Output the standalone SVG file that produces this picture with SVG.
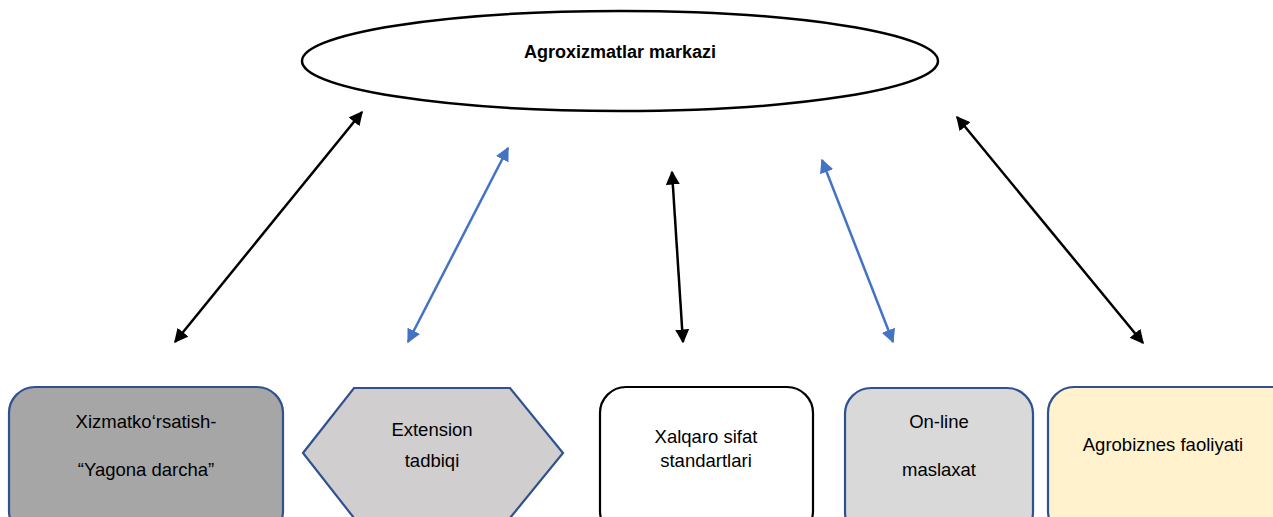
<svg xmlns="http://www.w3.org/2000/svg" width="1273" height="517" viewBox="0 0 1273 517">
<style>
.t{font-family:"Liberation Sans","Open Sans",sans-serif;font-size:18.5px;fill:#000;text-anchor:middle}
.b{font-weight:bold;font-size:18px}
.blue{stroke:#2f528f;stroke-width:2.2}
.ck{stroke:#000;stroke-width:2.5;fill:none}
.cb{stroke:#4472c4;stroke-width:2.5;fill:none}
</style>
<defs>
<marker id="ak" viewBox="0 0 10 10" refX="9" refY="5" markerWidth="5.6" markerHeight="5.6" orient="auto-start-reverse" markerUnits="strokeWidth"><path d="M0,0 L10,5 L0,10 z" fill="#000"/></marker>
<marker id="ab" viewBox="0 0 10 10" refX="9" refY="5" markerWidth="5.6" markerHeight="5.6" orient="auto-start-reverse" markerUnits="strokeWidth"><path d="M0,0 L10,5 L0,10 z" fill="#4472c4"/></marker>
</defs>
<rect width="1273" height="517" fill="#fff"/>
<g id="center">
<ellipse cx="620" cy="61" rx="318" ry="50" fill="#fff" stroke="#000" stroke-width="2.5"/>
<text class="t b" x="620" y="58">Agroxizmatlar markazi</text>
</g>
<g id="connectors">
<line class="ck" x1="175" y1="342" x2="362" y2="112" marker-start="url(#ak)" marker-end="url(#ak)"/>
<line class="cb" x1="408" y1="342" x2="508" y2="148" marker-start="url(#ab)" marker-end="url(#ab)"/>
<line class="ck" x1="683" y1="342" x2="672" y2="172" marker-start="url(#ak)" marker-end="url(#ak)"/>
<line class="cb" x1="893" y1="342" x2="822" y2="160" marker-start="url(#ab)" marker-end="url(#ab)"/>
<line class="ck" x1="1143" y1="343" x2="957" y2="117" marker-start="url(#ak)" marker-end="url(#ak)"/>
</g>
<g id="node1">
<rect class="blue" x="9" y="387" width="274" height="150" rx="26" fill="#a6a6a6"/>
<text class="t" x="146" y="428">Xizmatko‘rsatish-</text>
<text class="t" x="146" y="476">“Yagona darcha”</text>
</g>
<g id="node2">
<polygon class="blue" points="303,453 354,388 510,388 563,453 510,518 354,518" fill="#d0cece"/>
<text class="t" x="432" y="436">Extension</text>
<text class="t" x="432" y="467">tadbiqi</text>
</g>
<g id="node3">
<rect x="600" y="387" width="213" height="150" rx="26" fill="#fff" stroke="#000" stroke-width="2.2"/>
<text class="t" x="706" y="443">Xalqaro sifat</text>
<text class="t" x="706" y="467">standartlari</text>
</g>
<g id="node4">
<rect class="blue" x="845" y="388" width="188" height="150" rx="26" fill="#d9d9d9"/>
<text class="t" x="939" y="428">On-line</text>
<text class="t" x="939" y="476">maslaxat</text>
</g>
<g id="node5">
<rect class="blue" x="1048" y="387" width="260" height="150" rx="26" fill="#fff2cc"/>
<text class="t" x="1163" y="451">Agrobiznes faoliyati</text>
</g>
</svg>
